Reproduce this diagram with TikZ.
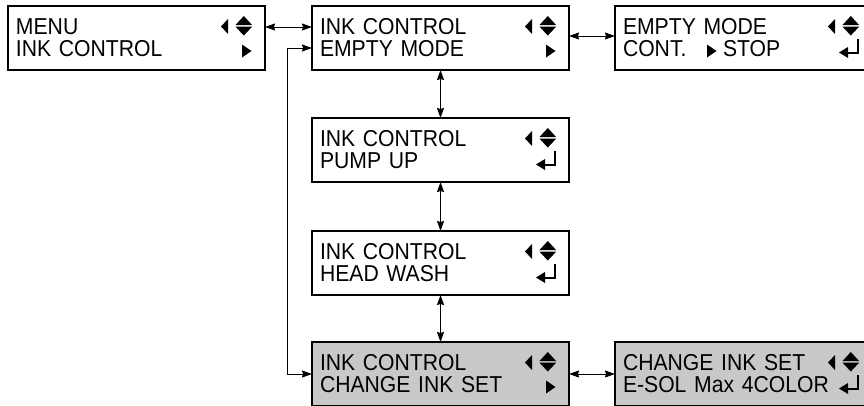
\documentclass[tikz,border=0pt]{standalone}
\usepackage{fontspec}
\newfontfamily\lcd[FakeStretch=0.92]{Liberation Sans}
\usetikzlibrary{arrows.meta}
\definecolor{panelgray}{RGB}{200,200,200}

\begin{document}
\begin{tikzpicture}[x=1pt,y=-1pt,
    panel/.style={draw, line width=1.2pt, minimum width=257pt, minimum height=64pt,
      text width=241pt, inner xsep=8pt, inner ysep=0pt, outer sep=0pt, align=left,
      font=\lcd\fontsize{23}{22}\selectfont},
    current/.style={panel, fill=panelgray, line width=2pt},
    link/.style={line width=1pt, >={Stealth[length=10pt,width=7pt,inset=1pt]}, <->},
    nav/.pic={
      \fill (-44,20.5) -- (-37,13) -- (-37,28) -- cycle;
      \fill (-29.5,19) -- (-21.2,10) -- (-12.9,19) -- cycle;
      \fill (-29.5,20.7) -- (-12.9,20.7) -- (-21.2,29.5) -- cycle;
    },
    more/.pic={\fill (-23,38.5) -- (-13.5,45) -- (-23,51.5) -- cycle;},
    enter/.pic={
      \draw[line width=2pt] (-14,33) -- (-14,46.5) -- (-24,46.5);
      \fill (-33,46.5) -- (-24,41) -- (-24,52) -- cycle;
    }]
      \useasboundingbox (0,0) rectangle (864,405);
      \clip (0,0) rectangle (864,405);

      \node[panel] (menu) at (136.5,38) {MENU\\INK CONTROL};
      \node[panel] (ink) at (440.5,38) {INK CONTROL\\EMPTY MODE};
      \node[panel] (empty) at (743.5,38) {EMPTY MODE\\\makebox[100pt][l]{CONT.}STOP};
      \node[panel] (pump) at (440.5,150) {INK CONTROL\\PUMP UP};
      \node[panel] (wash) at (440.5,263) {INK CONTROL\\HEAD WASH};
      \node[current] (change) at (440.5,374) {INK CONTROL\\CHANGE INK SET};
      \node[current] (inkset) at (743.5,374) {CHANGE INK SET\\E-SOL Max 4COLOR};

      \pic at (menu.north east) {nav};
      \pic at (menu.north east) {more};
      \pic at (ink.north east) {nav};
      \pic at (ink.north east) {more};
      \pic at (empty.north east) {nav};
      \pic at (empty.north east) {enter};
      \pic at ([xshift=115pt]empty.north west) {more};
      \pic at (pump.north east) {nav};
      \pic at (pump.north east) {enter};
      \pic at (wash.north east) {nav};
      \pic at (wash.north east) {enter};
      \pic at (change.north east) {nav};
      \pic at (change.north east) {more};
      \pic at (inkset.north east) {nav};
      \pic at (inkset.north east) {enter};

      \draw[link] ([yshift=11pt]menu.east) -- ([yshift=11pt]ink.west);
      \draw[link] ([yshift=2pt]ink.east) -- ([yshift=2pt]empty.west);
      \draw[link] (ink.south) -- (pump.north);
      \draw[link] (pump.south) -- (wash.north);
      \draw[link] (wash.south) -- (change.north);
      \draw[link] (change.east) -- (inkset.west);

      \coordinate (bend) at (287,48);
      \draw[link] ([yshift=-10pt]ink.west) -- (bend) |- (change.west);
    \end{tikzpicture}
\end{document}
